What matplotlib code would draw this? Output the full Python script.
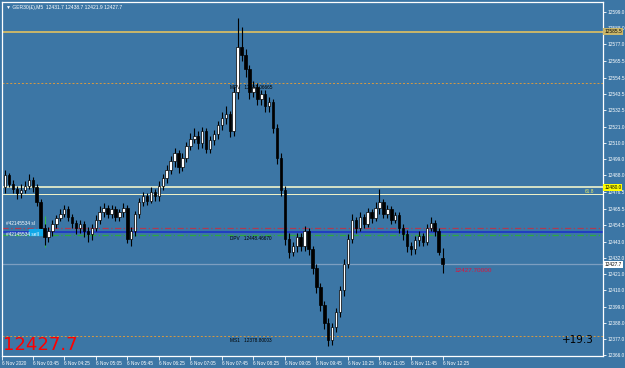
import numpy as np
import matplotlib
matplotlib.use("Agg")
import matplotlib.pyplot as plt


# ----- DATA (GER30 M5, 6 Nov 2020) -----
opens = [
    12480, 12488, 12482, 12479, 12476, 12478, 12481, 12485,
    12480, 12470, 12452, 12446, 12450, 12455, 12459, 12462,
    12465, 12460, 12456, 12452, 12455, 12450, 12448, 12452,
    12458, 12463, 12466, 12462, 12465, 12460, 12463, 12466,
    12445, 12450, 12462, 12470, 12474, 12471, 12477, 12474,
    12481, 12486, 12492, 12498, 12503, 12494, 12500, 12508,
    12513, 12515, 12510, 12518, 12506, 12512, 12516, 12522,
    12527, 12530, 12518, 12545, 12575, 12570, 12560, 12545,
    12548, 12540, 12543, 12535, 12538, 12520, 12500, 12478,
    12445, 12436, 12440, 12446, 12440, 12450, 12438, 12425,
    12412, 12400, 12388, 12376, 12385, 12395, 12410, 12428,
    12445, 12458, 12452, 12460, 12455, 12463, 12459, 12466,
    12470, 12462, 12465, 12458, 12461, 12452, 12448, 12440,
    12438, 12444, 12447, 12443, 12452, 12456, 12450, 12431.7,
]
highs = [
    12492, 12490, 12485, 12481, 12482, 12484, 12489, 12487,
    12482, 12472, 12455, 12453, 12458, 12461, 12465, 12468,
    12467, 12462, 12458, 12458, 12457, 12453, 12455, 12461,
    12467, 12469, 12468, 12468, 12467, 12465, 12469, 12468,
    12453, 12464, 12473, 12477, 12476, 12480, 12479, 12484,
    12489, 12495, 12501, 12507, 12505, 12503, 12511, 12517,
    12520, 12518, 12521, 12520, 12515, 12519, 12525, 12531,
    12535, 12532, 12548, 12595, 12589, 12574, 12563, 12552,
    12551, 12546, 12546, 12541, 12540, 12523, 12503, 12481,
    12449, 12443, 12449, 12449, 12454, 12452, 12440, 12428,
    12415, 12403, 12391, 12388, 12398, 12413, 12431, 12448,
    12462, 12460, 12463, 12462, 12466, 12465, 12470, 12479,
    12472, 12468, 12467, 12463, 12463, 12455, 12451, 12443,
    12447, 12450, 12449, 12455, 12460, 12458, 12452, 12438.7,
]
lows = [
    12476, 12480, 12476, 12472, 12473, 12476, 12479, 12477,
    12467, 12448, 12441, 12443, 12447, 12452, 12457, 12460,
    12457, 12452, 12448, 12449, 12446, 12443, 12444, 12450,
    12455, 12460, 12459, 12459, 12457, 12457, 12460, 12442,
    12440, 12447, 12459, 12467, 12468, 12469, 12471, 12471,
    12478, 12483, 12489, 12494, 12490, 12491, 12497, 12505,
    12510, 12506, 12507, 12503, 12503, 12509, 12513, 12519,
    12523, 12514, 12515, 12540, 12566, 12555, 12540, 12541,
    12536, 12536, 12531, 12531, 12517, 12496, 12474, 12441,
    12432, 12433, 12436, 12437, 12437, 12434, 12421, 12408,
    12396, 12384, 12372, 12373, 12382, 12392, 12406, 12425,
    12442, 12449, 12450, 12452, 12453, 12456, 12457, 12462,
    12459, 12459, 12455, 12456, 12449, 12444, 12436, 12434,
    12435, 12440, 12440, 12441, 12450, 12447, 12434, 12421.9,
]
closes = [
    12488, 12482, 12479, 12476, 12478, 12481, 12485, 12480,
    12470, 12452, 12446, 12450, 12455, 12459, 12462, 12465,
    12460, 12456, 12452, 12455, 12450, 12448, 12452, 12458,
    12463, 12466, 12462, 12465, 12460, 12463, 12466, 12445,
    12450, 12462, 12470, 12474, 12471, 12477, 12474, 12481,
    12486, 12492, 12498, 12503, 12494, 12500, 12508, 12513,
    12515, 12510, 12518, 12506, 12512, 12516, 12522, 12527,
    12530, 12518, 12545, 12575, 12570, 12560, 12545, 12548,
    12540, 12543, 12535, 12538, 12520, 12500, 12478, 12445,
    12436, 12440, 12446, 12440, 12450, 12438, 12425, 12412,
    12400, 12388, 12376, 12385, 12395, 12410, 12428, 12445,
    12458, 12452, 12460, 12455, 12463, 12459, 12466, 12470,
    12462, 12465, 12458, 12461, 12452, 12448, 12440, 12438,
    12444, 12447, 12443, 12452, 12456, 12450, 12436, 12427.7,
]

y_ticks = [12599.0, 12588.0, 12577.0, 12565.5, 12554.5, 12543.5, 12532.5,
           12521.0, 12510.0, 12499.0, 12488.0, 12476.5, 12465.5, 12454.5,
           12443.0, 12432.0, 12421.0, 12410.0, 12399.0, 12388.0, 12377.0,
           12366.0]
x_tick_bars = [-0.75, 7, 15, 23, 31, 39, 47, 55, 63, 71, 79, 87, 95, 103, 111]
x_tick_labels = ["6 Nov 2020", "6 Nov 03:45", "6 Nov 04:25", "6 Nov 05:05",
                 "6 Nov 05:45", "6 Nov 06:25", "6 Nov 07:05", "6 Nov 07:45",
                 "6 Nov 08:25", "6 Nov 09:05", "6 Nov 09:45", "6 Nov 10:25",
                 "6 Nov 11:05", "6 Nov 11:45", "6 Nov 12:25"]

# horizontal levels drawn on the chart
top_level = 12585.5
mpv_level = 12551.06665
fib_high = 12480.0
fib_618 = 12475.2
sl_level = 12452.2
open_level = 12449.6
tp_level = 12447.4
bid_level = 12427.7
ms1_level = 12378.80003
trade_bar = 10

# ----- COLOURS / FONTS -----
BG = "#3C76A5"
BULL = "white"
BEAR = "black"
SMALL = dict(family="Liberation Sans", fontsize=3.4)

fig = plt.figure(figsize=(6.25, 3.68), dpi=100, facecolor=BG)
ax = fig.add_axes([0.0035, 0.033, 0.9615, 0.9615], facecolor=BG)

x = np.arange(len(closes))
o = np.array(opens)
h = np.array(highs)
l = np.array(lows)
c = np.array(closes)
up = c >= o

# ----- CANDLES -----
ax.vlines(x, l, h, color="black", lw=0.8, zorder=3)
body_lo = np.minimum(o, c)
body_hi = np.maximum(np.maximum(o, c), body_lo + 0.6)
ax.bar(x[up], (body_hi - body_lo)[up], bottom=body_lo[up], width=0.62,
       color=BULL, edgecolor="black", lw=0.5, zorder=4)
ax.bar(x[~up], (body_hi - body_lo)[~up], bottom=body_lo[~up], width=0.62,
       color=BEAR, edgecolor="black", lw=0.5, zorder=4)

# ----- LEVELS -----
ax.axhline(top_level, color="#C9B66A", lw=1.4, zorder=2)
ax.axhline(mpv_level, color="#D89A40", lw=0.7, ls=(0, (2, 2)), zorder=2)
ax.axhline(fib_high, color="#FFFFD0", lw=1.1, zorder=2)
ax.axhline(fib_618, color="#F4F4C8", lw=0.7, zorder=2)
ax.axhline(sl_level, color="#B03A50", lw=0.9, ls=(0, (5, 2, 1, 2)), zorder=2)
ax.axhline(open_level, color="#1A2ECC", lw=1.1, zorder=2)
ax.axhline(tp_level, color="#2EA840", lw=0.9, ls=(0, (5, 2, 1, 2)), zorder=2)
ax.axhline(bid_level, color="#7D9EC0", lw=0.9, zorder=2)
ax.axhline(ms1_level, color="#D89A40", lw=0.7, ls=(0, (2, 2)), zorder=2)

# trade marker
ax.vlines(trade_bar, tp_level - 8, sl_level + 8, color="#30C040", lw=0.7, zorder=2)
ax.fill_between([trade_bar - 4, trade_bar], open_level - 2, open_level + 2,
                color="#10A8E8", zorder=3)

# ----- LEVEL LABELS -----
ax.text(57, mpv_level - 1.5, "MPV   12551.06665", color="black",
        va="top", ha="left", zorder=5, **SMALL)
ax.text(57, tp_level - 0.5, "DPV   12448.46670", color="black",
        va="top", ha="left", zorder=5, **SMALL)
ax.text(57, ms1_level - 1.0, "MS1   12378.80003", color="black",
        va="top", ha="left", zorder=5, **SMALL)
ax.text(0.3, sl_level + 1.5, "#42145534 sl", color="white",
        va="bottom", ha="left", zorder=5, **SMALL)
ax.text(0.3, open_level - 1.5, "#42145534 sell", color="white",
        va="center", ha="left", zorder=5, **SMALL)
ax.text(114, bid_level - 2.5, "12427.70000", family="Liberation Sans",
        fontsize=4.6, color="#DC143C", va="top", ha="left", zorder=5)
ax.text(149.5, fib_618 + 0.5, "61.8", color="#F0F060",
        va="bottom", ha="right", zorder=5, **SMALL)

# ----- AXES FORMATTING -----
ax.set_xlim(-0.75, 151.75)
ax.set_ylim(12365.5, 12605.8)
for s in ax.spines.values():
    s.set_color("white")
    s.set_linewidth(0.9)

ax.yaxis.tick_right()
ax.set_yticks(y_ticks)
ax.set_yticklabels([f"{v:.1f}" for v in y_ticks], **SMALL)
ax.tick_params(axis="y", colors="white", length=2, width=0.6, pad=1.5)
ax.set_xticks(x_tick_bars)
ax.set_xticklabels(x_tick_labels, ha="left", **SMALL)
ax.tick_params(axis="x", colors="white", length=3, width=0.6, pad=1)

# right-scale price boxes
yt = ax.get_yaxis_transform()
for val, txt, bg in [(top_level, "12585.5", "#C9B66A"),
                     (fib_high, "12480.0", "#FFFF00"),
                     (bid_level, "12427.7", "white")]:
    ax.text(1.002, val, txt, transform=yt, color="black",
            va="center", ha="left", zorder=6, clip_on=False,
            bbox=dict(boxstyle="square,pad=0.2", fc=bg, ec="none"), **SMALL)

# ----- OVERLAY TEXTS -----
ax.text(0.006, 0.992, "\u25bc GER30(\u00a3),M5  12431.7 12438.7 12421.9 12427.7",
        transform=ax.transAxes, color="white", va="top", ha="left",
        family=["Liberation Sans", "DejaVu Sans"], fontsize=3.6)
ax.text(0.002, 0.005, "12427.7", transform=ax.transAxes, fontsize=13,
        color="#FF0000", va="bottom", ha="left")
ax.text(0.985, 0.03, "+19.3", transform=ax.transAxes, fontsize=7.5,
        color="black", va="bottom", ha="right")

plt.savefig("out.png", dpi=100, facecolor=BG)
